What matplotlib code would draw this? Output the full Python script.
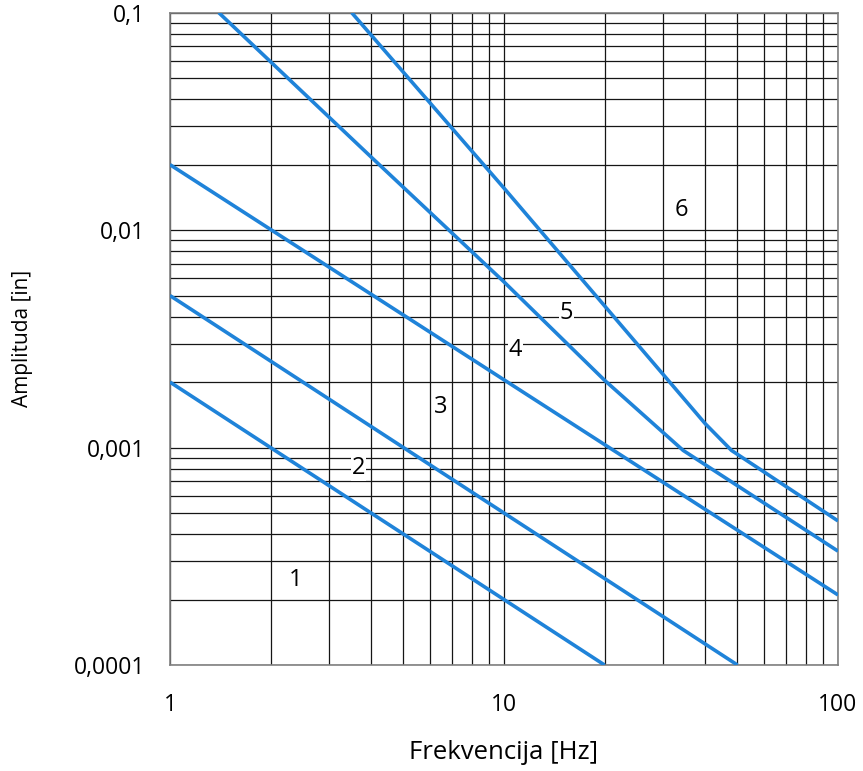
import numpy as np
import matplotlib.pyplot as plt
from matplotlib.ticker import FixedLocator, FixedFormatter, NullFormatter, LogLocator

plt.rcParams["font.family"] = ["Open Sans", "DejaVu Sans"]

# -------------------------------------------------------------------------
# DATA
# -------------------------------------------------------------------------
line1_f = [1, 20]
line1_a = [0.002, 0.0001]

line2_f = [1, 50]
line2_a = [0.005, 0.0001]

line3_f = [1, 100]
line3_a = [0.02, 0.00021]

line4_f = [1.4, 4, 10, 20, 34.4, 100]
line4_a = [0.1, 0.0217, 0.00578, 0.00204, 0.00097, 0.000334]

line5_f = [3.5, 10, 40, 48, 100]
line5_a = [0.1, 0.0156, 0.00129, 0.00097, 0.00046]

region_labels = ["1", "2", "3", "4", "5", "6"]
region_f = [2.38, 3.67, 6.45, 10.8, 15.4, 34.0]
region_a = [0.000245, 0.000803, 0.00154, 0.0028, 0.00416, 0.01236]

x_ticks = [1, 10, 100]
x_ticklabels = ["1", "10", "100"]
y_ticks = [0.0001, 0.001, 0.01, 0.1]
y_ticklabels = ["0,0001", "0,001", "0,01", "0,1"]

# -------------------------------------------------------------------------
# PLOT
# -------------------------------------------------------------------------
fig = plt.figure(figsize=(8.63, 7.71), dpi=100)
ax = fig.add_axes([170 / 863, 1 - 665 / 771, 668 / 863, 652.3 / 771])

blue = "#1F83D9"
for f, a in [(line1_f, line1_a), (line2_f, line2_a), (line3_f, line3_a),
             (line4_f, line4_a), (line5_f, line5_a)]:
    ax.plot(f, a, color=blue, lw=2.6, solid_capstyle="butt", zorder=3)

ax.set_xscale("log")
ax.set_yscale("log")
ax.set_xlim(1, 100)
ax.set_ylim(0.0001, 0.1)

ax.xaxis.set_major_locator(FixedLocator(x_ticks))
ax.xaxis.set_major_formatter(FixedFormatter(x_ticklabels))
ax.yaxis.set_major_locator(FixedLocator(y_ticks))
ax.yaxis.set_major_formatter(FixedFormatter(y_ticklabels))
for axis in (ax.xaxis, ax.yaxis):
    axis.set_minor_locator(LogLocator(base=10, subs=np.arange(2, 10)))
    axis.set_minor_formatter(NullFormatter())

ax.grid(True, which="both", color="#151515", lw=0.9, zorder=1)
ax.tick_params(which="both", length=0, labelsize=16.5)
ax.tick_params(axis="x", pad=20)
ax.tick_params(axis="y", pad=18)

for s in ax.spines.values():
    s.set_color("#808080")
    s.set_linewidth(1.2)

for lab, f, a in zip(region_labels, region_f, region_a):
    ax.text(f, a, lab, fontsize=17, ha="center", va="center", zorder=4,
            bbox=dict(facecolor="white", edgecolor="none", pad=0.5))

ax.set_xlabel("Frekvencija [Hz]", fontsize=18.5)
ax.xaxis.set_label_coords(0.5, -0.115)
ax.set_ylabel("Amplituda [in]", fontsize=15)
ax.yaxis.set_label_coords(-0.205, 0.5)

fig.savefig("out.png", dpi=100)
